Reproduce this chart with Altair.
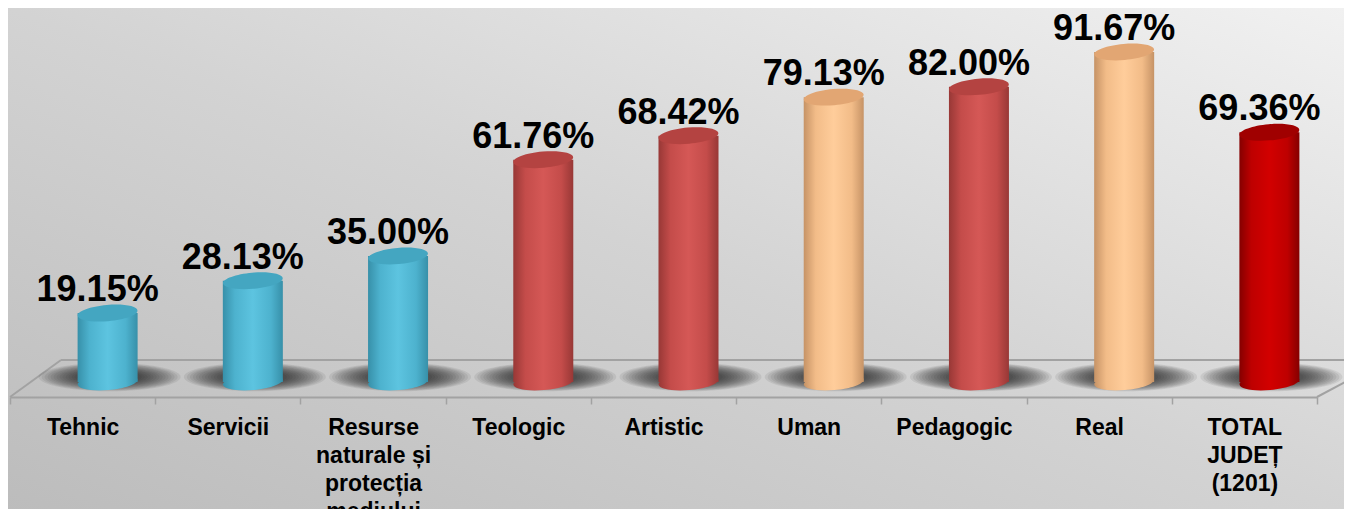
import altair as alt
import pandas as pd

# ---- data ----
categories = [
    "Tehnic",
    "Servicii",
    "Resurse|naturale și|protecția|mediului",
    "Teologic",
    "Artistic",
    "Uman",
    "Pedagogic",
    "Real",
    "TOTAL|JUDEȚ|(1201)",
]
values = [19.15, 28.13, 35.00, 61.76, 68.42, 79.13, 82.00, 91.67, 69.36]
groups = ["blue", "blue", "blue", "red", "red", "peach", "red", "peach", "total"]

# group -> (edge, mid, center, top)
palette = {
    "blue": ("#3790A9", "#4DB2CE", "#5DC4E0", "#44A6C1"),
    "red": ("#983836", "#C44C4A", "#D55856", "#B44341"),
    "peach": ("#C69366", "#F2BC88", "#FFCD9B", "#E2A673"),
    "total": ("#850000", "#BE0000", "#D20000", "#A00000"),
}

FONT = "Liberation Sans"
FLOOR = "#A2A2A2"
PLOT_W, PLOT_H = 1307, 360

df = pd.DataFrame({"cat": categories, "value": values, "group": groups})
one = alt.Data(values=[{"k": 1}])


def ellipse_path(r):
    k = 0.5523
    a = round(k * r, 4)
    return (
        f"M -1 0 C -1 {-a} {-k} {-r} 0 {-r} C {k} {-r} 1 {-a} 1 0 "
        f"C 1 {a} {k} {r} 0 {r} C {-k} {r} -1 {a} -1 0 Z"
    )


ELLIPSE = ellipse_path(0.27)
SHADOW = ellipse_path(0.2)

X = alt.X(
    "cat:N",
    sort=categories,
    title=None,
    scale=alt.Scale(paddingInner=0, paddingOuter=0),
    axis=alt.Axis(
        labelExpr="split(datum.label, '|')",
        labelAngle=0,
        labelFont=FONT,
        labelFontSize=23,
        labelFontWeight="bold",
        labelColor="#000000",
        labelLineHeight=28,
        labelPadding=12,
        labelOverlap=False,
        labelLimit=300,
        tickSize=7,
        tickBand="extent",
        tickColor=FLOOR,
        tickWidth=1.5,
        domainColor=FLOOR,
        domainWidth=2,
        offset=15,
        grid=False,
        zindex=1,
    ),
)
YS = alt.Scale(domain=[0, 100])
Y = alt.Y("value:Q", scale=YS, axis=None)
Y0 = alt.YDatum(0, axis=None)
Y20 = alt.Y2Datum(0)

base = alt.Chart(df)

# background gradient
bg = alt.Chart(one).mark_rect(
    fill=alt.LinearGradient(
        gradient="linear",
        stops=[
            alt.GradientStop(color="#F1F1F1", offset=0),
            alt.GradientStop(color="#D3D3D3", offset=0.5),
            alt.GradientStop(color="#BCBCBC", offset=1),
        ],
        x1=1, y1=0, x2=0, y2=1,
    )
).encode(x=alt.value(-2), x2=alt.value(1334), y=alt.value(-14), y2=alt.value(490))

# floor
floor_back = alt.Chart(one).mark_rule(color=FLOOR, strokeWidth=2, yOffset=-22).encode(
    x=alt.value(51), x2=alt.value(1334), y=Y0
)
floor_left = alt.Chart(one).mark_rule(color=FLOOR, strokeWidth=2, yOffset=15, y2Offset=-22).encode(
    x=alt.value(0), x2=alt.value(51), y=Y0, y2=Y20
)
floor_right = alt.Chart(one).mark_rule(color=FLOOR, strokeWidth=2, yOffset=15, y2Offset=-22).encode(
    x=alt.value(PLOT_W), x2=alt.value(PLOT_W + 70), y=Y0, y2=Y20
)

layers = [bg, floor_back, floor_left, floor_right]

# blurred shadows (stack of translucent ellipses)
for w in range(142, 60, -6):
    layers.append(
        base.mark_point(
            shape=SHADOW, size=w * w, filled=True, color="#141414", opacity=0.08,
            xOffset=27, yOffset=-5, strokeWidth=0,
        ).encode(x=X, y=Y0)
    )

# cylinders
for g, (edge, mid, center, top) in palette.items():
    grad = alt.LinearGradient(
        gradient="linear",
        stops=[
            alt.GradientStop(color=edge, offset=0),
            alt.GradientStop(color=mid, offset=0.2),
            alt.GradientStop(color=center, offset=0.5),
            alt.GradientStop(color=mid, offset=0.8),
            alt.GradientStop(color=edge, offset=1),
        ],
        x1=0, y1=0, x2=1, y2=0,
    )
    sub = base.transform_filter(alt.datum.group == g)
    layers.append(
        sub.mark_point(shape=ELLIPSE, size=3600, filled=True, fill=grad, opacity=1,
                       xOffset=25, angle=355).encode(x=X, y=Y0)
    )
    layers.append(
        sub.mark_bar(width=60, xOffset=25, fill=grad).encode(x=X, y=Y, y2=Y20)
    )
    layers.append(
        sub.mark_point(shape=ELLIPSE, size=3600, filled=True, color=top, opacity=1,
                       xOffset=25, angle=355).encode(x=X, y=Y)
    )

# value labels
layers.append(
    base.transform_calculate(label="format(datum.value, '.2f') + '%'").mark_text(
        font=FONT, fontSize=36, fontWeight="bold", color="#000000",
        xOffset=15, dy=-12, baseline="alphabetic", align="center",
    ).encode(x=X, y=Y, text="label:N")
)

chart = alt.layer(*layers).properties(
    width=PLOT_W,
    height=PLOT_H,
    autosize=alt.AutoSizeParams(type="none"),
    padding={"left": 2, "top": 14, "right": 27, "bottom": 127},
).configure(background="#D0D0D0").configure_view(strokeWidth=0)

chart.save("out.html", embed_options={"renderer": "svg", "actions": False})
